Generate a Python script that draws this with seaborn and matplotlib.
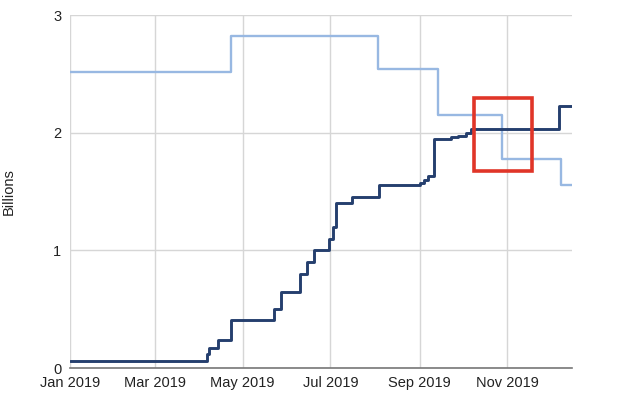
import matplotlib
matplotlib.use("Agg")
import matplotlib.pyplot as plt
import matplotlib.dates as mdates
from matplotlib.patches import Rectangle
import seaborn as sns
import pandas as pd

# Dark series (step changes)
dark_dates = ["2019-01-01", "2019-04-06", "2019-04-08", "2019-04-14", "2019-04-23",
              "2019-05-23", "2019-05-28", "2019-06-10", "2019-06-15", "2019-06-20",
              "2019-06-30", "2019-07-03", "2019-07-05", "2019-07-16", "2019-08-04",
              "2019-09-01", "2019-09-04", "2019-09-07", "2019-09-11", "2019-09-23",
              "2019-09-28", "2019-10-03", "2019-10-07", "2019-12-07", "2019-12-16"]
dark_values = [0.06, 0.12, 0.17, 0.24, 0.41,
               0.50, 0.65, 0.80, 0.90, 1.00,
               1.10, 1.20, 1.40, 1.455, 1.555,
               1.57, 1.60, 1.63, 1.945, 1.96,
               1.975, 2.00, 2.03, 2.23, 2.23]

# Light series (step changes)
light_dates = ["2019-01-01", "2019-04-23", "2019-08-03", "2019-09-14",
               "2019-10-28", "2019-12-08", "2019-12-16"]
light_values = [2.52, 2.82, 2.545, 2.15, 1.78, 1.56, 1.56]

tick_dates = ["2019-01-01", "2019-03-01", "2019-05-01", "2019-07-01",
              "2019-09-01", "2019-11-01"]
y_ticks = [0, 1, 2, 3]
highlight = {"x0": "2019-10-09", "x1": "2019-11-18", "y0": 1.675, "y1": 2.297}

sns.set_theme(style="white")
plt.rcParams['font.family'] = ['Liberation Sans', 'DejaVu Sans']

dark_df = pd.DataFrame({"date": pd.to_datetime(dark_dates), "value": dark_values})
light_df = pd.DataFrame({"date": pd.to_datetime(light_dates), "value": light_values})

fig = plt.figure(figsize=(6.4, 3.95), dpi=100)
ax = fig.add_axes([0.109, 0.068, 0.785, 0.894])

sns.lineplot(data=light_df, x="date", y="value", ax=ax, color="#98b8e2",
             linewidth=1.7, drawstyle="steps-post", zorder=3)
sns.lineplot(data=dark_df, x="date", y="value", ax=ax, color="#253f6e",
             linewidth=2.1, drawstyle="steps-post", zorder=4)

ax.set_xlim(pd.Timestamp("2019-01-01"), pd.Timestamp("2019-12-16"))
ax.set_ylim(0, 3)
ax.set_yticks(y_ticks)
ax.set_yticklabels([str(v) for v in y_ticks])
ax.set_xticks(pd.to_datetime(tick_dates))
ax.xaxis.set_major_formatter(mdates.DateFormatter("%b %Y"))

ax.grid(True, color="#d6d6d6", linewidth=1.0)
ax.set_axisbelow(True)
for s in ["top", "right", "left"]:
    ax.spines[s].set_visible(False)
ax.spines["bottom"].set_color("#777777")
ax.spines["bottom"].set_linewidth(1.2)
ax.tick_params(axis="both", length=0, labelsize=10.5, colors="#222222")
ax.tick_params(axis="x", pad=6)
ax.tick_params(axis="y", pad=6)
ax.set_xlabel("")
ax.set_ylabel("Billions", fontsize=10.5, color="#222222", labelpad=27)

x0 = mdates.date2num(pd.Timestamp(highlight["x0"]))
x1 = mdates.date2num(pd.Timestamp(highlight["x1"]))
rect = Rectangle((x0, highlight["y0"]), x1 - x0, highlight["y1"] - highlight["y0"],
                 fill=False, edgecolor="#e03528", linewidth=2.6, zorder=5)
ax.add_patch(rect)

fig.savefig("out.png", dpi=100)
